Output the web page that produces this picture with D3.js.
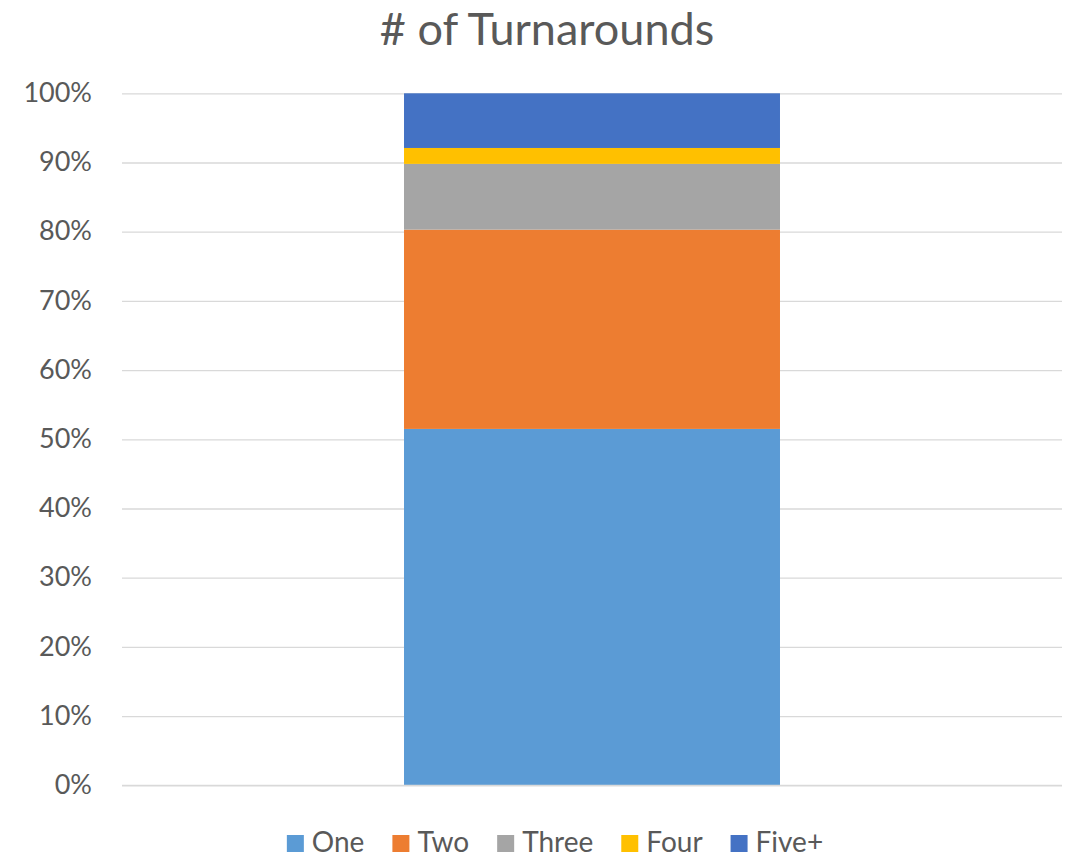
<!DOCTYPE html>
<html><head><meta charset="utf-8">
<script src="https://cdn.jsdelivr.net/npm/d3@7"></script>
<style>body{margin:0;background:#fff;} svg{display:block;}</style>
</head><body>
<svg id="chart" width="1076" height="859"></svg>
<script>
const categories = ["# of Turnarounds"];
const seriesNames = ["One", "Two", "Three", "Four", "Five+"];
const seriesValues = [51.5, 28.8, 9.5, 2.3, 7.9];
const seriesColors = ["#5B9BD5", "#ED7D31", "#A5A5A5", "#FFC000", "#4472C4"];
const tickValues = [0, 10, 20, 30, 40, 50, 60, 70, 80, 90, 100];
const title = "# of Turnarounds";

const svg = d3.select("#chart");
const font = "Lato, 'Open Sans', sans-serif";
const textColor = "#595959";
const m = {left: 122, right: 1062, top: 93.3, bottom: 785.3};

const y = d3.scaleLinear().domain([0, 100]).range([m.bottom, m.top]);
const x = d3.scaleBand().domain(categories).range([m.left, m.right]).paddingInner(0.4286).paddingOuter(0.4286);

// gridlines
const yAxis = d3.axisLeft(y).tickValues(tickValues).tickSize(-(m.right - m.left)).tickFormat(d => d + "%").tickPadding(30);
const g = svg.append("g").attr("transform", `translate(${m.left},0)`).call(yAxis);
g.select(".domain").remove();
g.selectAll(".tick line").attr("stroke", "#d9d9d9").attr("stroke-width", 1.3);
g.selectAll(".tick text").attr("fill", textColor).style("font-family", font).style("font-size", "27px").attr("dy", "0.3em");

// stacked data
const row = {cat: categories[0]};
seriesNames.forEach((n, i) => row[n] = seriesValues[i]);
const stack = d3.stack().keys(seriesNames)([row]);
svg.append("g").selectAll("rect").data(stack).join("rect")
  .attr("x", x(categories[0]))
  .attr("width", x.bandwidth())
  .attr("y", d => y(d[0][1]))
  .attr("height", d => y(d[0][0]) - y(d[0][1]))
  .attr("fill", (d, i) => seriesColors[i]);

svg.append("line").attr("x1", m.left).attr("x2", m.right).attr("y1", y(0)).attr("y2", y(0))
  .attr("stroke", "#d9d9d9").attr("stroke-width", 1.3);

// title
svg.append("text").attr("x", 547).attr("y", 45).attr("text-anchor", "middle")
  .attr("fill", textColor).style("font-family", font).style("font-size", "45px").text(title);

// legend
const legend = svg.append("g");
const items = legend.selectAll("g").data(seriesNames).join("g");
items.append("rect").attr("width", 17).attr("height", 17).attr("y", 835).attr("fill", (d, i) => seriesColors[i]);
items.append("text").attr("x", 25).attr("y", 852).attr("fill", textColor)
  .style("font-family", font).style("font-size", "28px").text(d => d);
const widths = [];
items.each(function() { widths.push(this.getBBox().width); });
const gap = 28;
const total = d3.sum(widths) + gap * (widths.length - 1);
let xpos = 555 - total / 2;
items.each(function(d, i) {
  d3.select(this).attr("transform", `translate(${xpos},0)`);
  xpos += widths[i] + gap;
});
</script>
</body></html>
